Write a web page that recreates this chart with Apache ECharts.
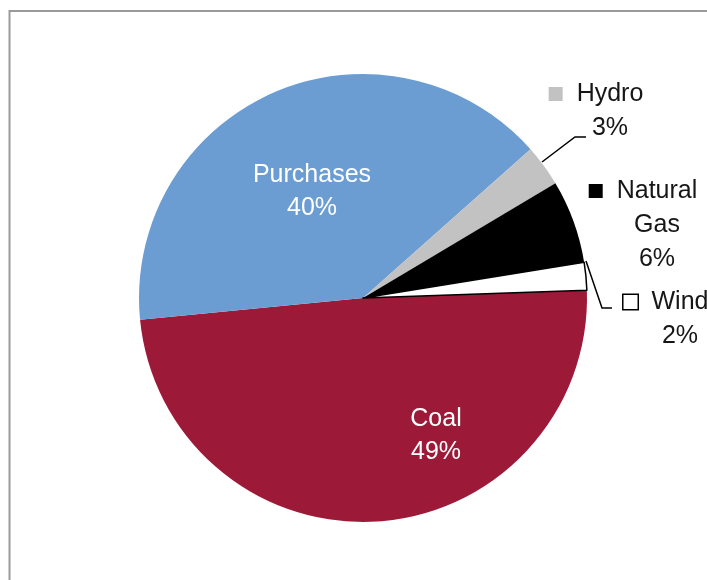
<!DOCTYPE html>
<html>
<head>
<meta charset="utf-8">
<script src="https://cdn.jsdelivr.net/npm/echarts@6/dist/echarts.min.js"></script>
<style>
  html, body { margin: 0; padding: 0; background: #fff; }
  #chart { width: 707px; height: 580px; }
</style>
</head>
<body>
<div id="chart"></div>
<script>
// ---- Data ----
const categories = ['Coal', 'Purchases', 'Hydro', 'Natural Gas', 'Wind'];
const shares = [49, 40, 3, 6, 2];
const labelLines = ['Coal', 'Purchases', 'Hydro', 'Natural\nGas', 'Wind'];

// ---- Styling (not data) ----
const sliceColors = ['#9c1a37', '#6b9dd3', '#c2c2c2', '#000000', '#ffffff'];
const insideSlices = { 0: true, 1: true };
const labelCenters = {
  0: [436, 436],
  1: [312, 192],
  2: [610, 111],
  3: [657, 225],
  4: [680, 319]
};
const leaderPoints = {
  2: [[542, 162], [575, 137], [586, 137]],
  4: [[586, 261], [602, 308], [612, 308]]
};

const FONT = "'Liberation Sans', Arial, sans-serif";

function buildLabel(i) {
  const name = labelLines[i];
  const pct = shares[i] + '%';
  if (insideSlices[i]) {
    return {
      show: true,
      position: 'inside',
      formatter: name + '\n' + pct,
      color: '#ffffff',
      fontSize: 25,
      lineHeight: 33,
      fontFamily: FONT,
      align: 'center'
    };
  }
  const parts = name.split('\n');
  let text = '{key|}{gap|}{t|' + parts[0] + '}{pad|}';
  for (let k = 1; k < parts.length; k++) text += '\n{t|' + parts[k] + '}';
  text += '\n{t|' + pct + '}';
  return {
    show: true,
    position: 'outside',
    formatter: text,
    align: 'center',
    rich: {
      key: {
        width: 14, height: 14,
        backgroundColor: sliceColors[i],
        borderColor: '#000',
        borderWidth: i === 4 ? 1.5 : 0
      },
      gap: { width: 14, height: 14 },
      pad: { width: 28, height: 14 },
      t: { fontSize: 25, lineHeight: 34, fontFamily: FONT, color: '#161616' }
    }
  };
}

const pieData = categories.map((c, i) => ({
  name: c,
  value: shares[i],
  itemStyle: {
    color: sliceColors[i],
    borderColor: i === 4 ? '#000' : sliceColors[i],
    borderWidth: i === 4 ? 1.5 : 0
  },
  label: buildLabel(i),
  labelLine: {
    show: !!leaderPoints[i],
    lineStyle: { color: '#000', width: 1.5 }
  }
}));

const chart = echarts.init(document.getElementById('chart'), null, { renderer: 'canvas' });
chart.setOption({
  backgroundColor: '#ffffff',
  animation: false,
  graphic: [{
    type: 'rect',
    shape: { x: 9.5, y: 11, width: 760, height: 640 },
    style: { fill: 'none', stroke: '#9a9a9a', lineWidth: 2 },
    silent: true,
    z: -10
  }],
  series: [{
    type: 'pie',
    center: [363, 298],
    radius: [0, 224],
    startAngle: 2,
    clockwise: true,
    avoidLabelOverlap: false,
    emphasis: { disabled: true },
    data: pieData,
    labelLayout: function (params) {
      const i = params.dataIndex;
      const c = labelCenters[i];
      const out = { x: c[0], y: c[1], align: 'center', verticalAlign: 'middle' };
      if (leaderPoints[i]) out.labelLinePoints = leaderPoints[i];
      return out;
    }
  }]
});
</script>
</body>
</html>
